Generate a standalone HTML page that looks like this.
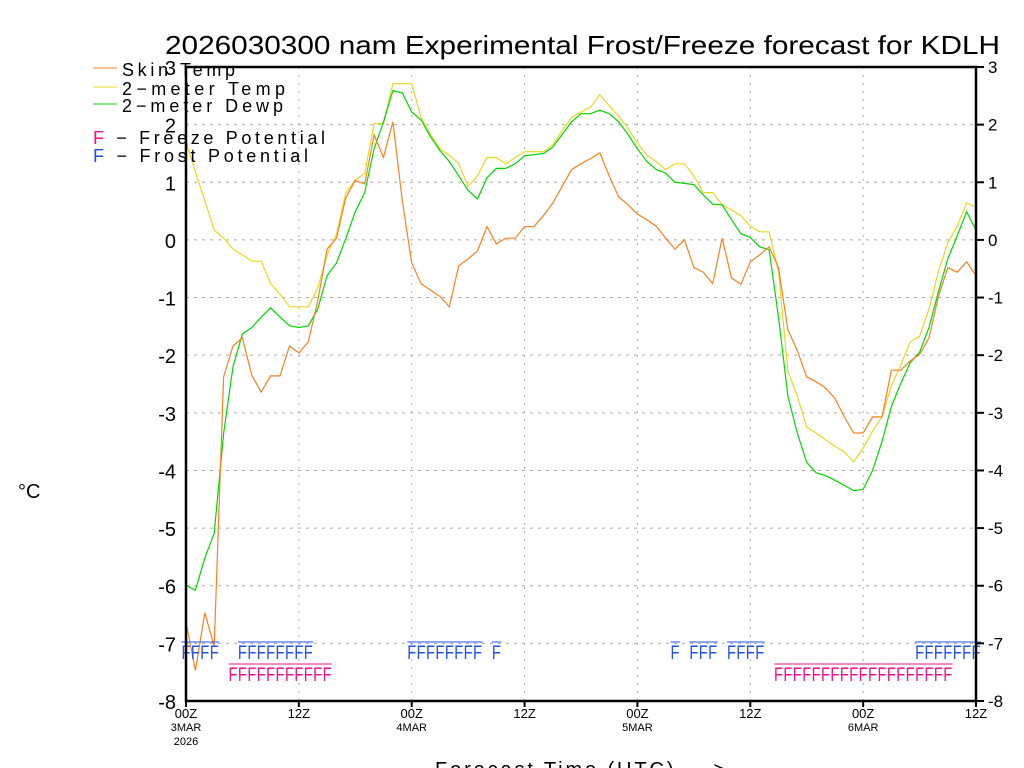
<!DOCTYPE html>
<html><head><meta charset="utf-8"><style>
html,body{margin:0;padding:0;background:#fff;}
svg{display:block;font-family:"Liberation Sans",sans-serif;}
</style></head><body>
<svg id="chart" width="1024" height="768" viewBox="0 0 1024 768" xmlns="http://www.w3.org/2000/svg">
<text x="165" y="54" font-size="26" textLength="835" lengthAdjust="spacingAndGlyphs">2026030300 nam Experimental Frost/Freeze forecast for KDLH</text>
<g id="grid"></g>
<g id="series"></g>
<g id="markers"></g>
<g id="axes"></g>
<g>
<line x1="93" y1="68" x2="117" y2="68" stroke="#f58220" stroke-width="1"/>
<text x="122" y="76" font-size="18" textLength="113" lengthAdjust="spacing">Skin Temp</text>
<line x1="93" y1="87" x2="117" y2="87" stroke="#e8d820" stroke-width="1"/>
<text x="122" y="95" font-size="18" textLength="163" lengthAdjust="spacing">2−meter Temp</text>
<line x1="93" y1="104" x2="117" y2="104" stroke="#00d800" stroke-width="1"/>
<text x="122" y="112" font-size="18" textLength="161" lengthAdjust="spacing">2−meter Dewp</text>
<text x="93" y="144" font-size="18" textLength="232" lengthAdjust="spacing"><tspan fill="#f0108a">F</tspan> − Freeze Potential</text>
<text x="93" y="162" font-size="18" textLength="215" lengthAdjust="spacing"><tspan fill="#2050f0">F</tspan> − Frost Potential</text>
</g>
<text x="18" y="498" font-size="20">°C</text>
<text x="435" y="776" font-size="20" textLength="290" lengthAdjust="spacing">Forecast Time (UTC) ---&gt;</text>
</svg>
<script>
const skinTemp=[-6.63,-7.47,-6.47,-7.05,-2.38,-1.84,-1.70,-2.35,-2.64,-2.36,-2.36,-1.84,-1.96,-1.77,-1.06,-0.16,0.03,0.74,1.03,0.97,1.82,1.43,2.05,0.68,-0.40,-0.76,-0.87,-0.98,-1.16,-0.45,-0.33,-0.19,0.23,-0.07,0.03,0.03,0.23,0.23,0.42,0.64,0.93,1.22,1.32,1.41,1.51,1.11,0.75,0.61,0.45,0.35,0.24,0.03,-0.16,0,-0.48,-0.56,-0.76,0.03,-0.66,-0.77,-0.38,-0.26,-0.12,-0.48,-1.56,-1.92,-2.38,-2.46,-2.57,-2.75,-3.07,-3.35,-3.35,-3.07,-3.07,-2.26,-2.26,-2.10,-1.99,-1.70,-0.98,-0.48,-0.56,-0.38,-0.62];
const temp2m=[1.70,1.18,0.68,0.17,0.03,-0.16,-0.26,-0.37,-0.37,-0.76,-0.94,-1.16,-1.16,-1.16,-0.84,-0.26,0.10,0.82,1.04,1.15,2.02,2.02,2.71,2.71,2.71,2.12,1.83,1.58,1.47,1.33,0.93,1.11,1.43,1.43,1.32,1.43,1.53,1.53,1.53,1.65,1.90,2.12,2.22,2.30,2.52,2.33,2.15,1.94,1.68,1.47,1.36,1.22,1.32,1.32,1.11,0.82,0.82,0.61,0.52,0.42,0.24,0.14,0.14,-0.55,-2.28,-2.71,-3.25,-3.35,-3.47,-3.58,-3.68,-3.85,-3.61,-3.32,-3.07,-2.53,-2.17,-1.77,-1.67,-1.20,-0.55,-0.05,0.24,0.64,0.57];
const dewp2m=[-5.99,-6.08,-5.52,-5.09,-3.36,-2.20,-1.63,-1.52,-1.34,-1.18,-1.34,-1.49,-1.52,-1.49,-1.20,-0.62,-0.40,0.03,0.49,0.82,1.58,2.05,2.59,2.55,2.22,2.08,1.79,1.55,1.36,1.11,0.86,0.71,1.08,1.24,1.24,1.32,1.46,1.48,1.50,1.61,1.83,2.05,2.19,2.19,2.25,2.19,2.05,1.83,1.58,1.36,1.22,1.16,1.00,0.98,0.96,0.78,0.62,0.61,0.35,0.11,0.04,-0.12,-0.17,-1.34,-2.71,-3.35,-3.86,-4.04,-4.09,-4.17,-4.26,-4.35,-4.33,-4.00,-3.50,-2.89,-2.49,-2.13,-1.95,-1.52,-0.90,-0.33,0.07,0.49,0.17];
const frostHours=[0,1,2,3,6,7,8,9,10,11,12,13,24,25,26,27,28,29,30,31,33,52,54,55,56,58,59,60,61,78,79,80,81,82,83,84];
const freezeHours=[5,6,7,8,9,10,11,12,13,14,15,63,64,65,66,67,68,69,70,71,72,73,74,75,76,77,78,79,80,81];
const yTicks=[3,2,1,0,-1,-2,-3,-4,-5,-6,-7,-8];
const xTickHours=[0,12,24,36,48,60,72,84];
const xTickLabels=["00Z","12Z","00Z","12Z","00Z","12Z","00Z","12Z"];
const xTickDates=["3MAR","","4MAR","","5MAR","","6MAR",""];
const xTickYears=["2026","","","","","","",""];

const L=186,R=976,T=67,B=701,HMAX=84,YMIN=-8,YMAX=3;
const NS="http://www.w3.org/2000/svg";
function xs(h){return L+(R-L)*h/HMAX;}
function ys(v){return B-(B-T)*(v-YMIN)/(YMAX-YMIN);}
function mk(tag,attrs,parent){const e=document.createElementNS(NS,tag);for(const k in attrs)e.setAttribute(k,attrs[k]);parent.appendChild(e);return e;}
const grid=document.getElementById('grid'),series=document.getElementById('series'),markers=document.getElementById('markers'),axes=document.getElementById('axes');

yTicks.forEach(v=>{
  if(v>YMIN&&v<YMAX){const g=mk('line',{x1:L,x2:R,y1:ys(v),y2:ys(v),stroke:'#aaa','stroke-dasharray':'3,5','stroke-width':1},grid);
  
  }
  const tl=mk('text',{x:L-10,y:ys(v)+8,'font-size':20,'text-anchor':'end'},axes);tl.textContent=v;
  
  
  const tr=mk('text',{x:R+12,y:ys(v)+6,'font-size':17},axes);tr.textContent=v;
  
  
  const tk=mk('line',{x1:R,x2:R+8,y1:ys(v),y2:ys(v),stroke:'#000','stroke-width':2},axes);
  
  
});
xTickHours.forEach((h,i)=>{
  if(h>0&&h<HMAX){const g=mk('line',{x1:xs(h),x2:xs(h),y1:T,y2:B,stroke:'#aaa','stroke-dasharray':'2,6','stroke-width':1},grid);
  
  }
  const t=mk('text',{x:xs(h),y:B+17,'font-size':13,'text-anchor':'middle'},axes);t.textContent=xTickLabels[i];
  
  
  if(xTickDates[i]){const d=mk('text',{x:xs(h),y:B+30,'font-size':11,'text-anchor':'middle'},axes);d.textContent=xTickDates[i];
  
  }
  if(xTickYears[i]){const d=mk('text',{x:xs(h),y:B+44,'font-size':11,'text-anchor':'middle'},axes);d.textContent=xTickYears[i];
  
  }
  const tk=mk('line',{x1:xs(h),x2:xs(h),y1:B,y2:B+6,stroke:'#000','stroke-width':2},axes);
  
  
});
const frame=mk('rect',{x:L,y:T,width:R-L,height:B-T,fill:'none',stroke:'#000','stroke-width':2.5},axes);



function line(arr,color,name){
  const p=mk('polyline',{points:arr.map((v,i)=>xs(i).toFixed(1)+','+ys(v).toFixed(1)).join(' '),fill:'none',stroke:color,'stroke-width':1.2},series);
  
  
}
line(temp2m,'#e8d820','line-2m-temp');
line(dewp2m,'#00d800','line-2m-dewp');
line(skinTemp,'#f58220','line-skin-temp');

function fmarks(hours,color,yTop,name){
  hours.forEach(h=>{
    const x=xs(h)-4.5;
    const t=mk('text',{x:x,y:yTop+17,'font-size':19,fill:color,textLength:9,lengthAdjust:'spacingAndGlyphs'},markers);t.textContent='F';
    
    
    const l=mk('line',{x1:x,x2:x+9.4,y1:yTop,y2:yTop,stroke:color,'stroke-width':1},markers);
    
    
  });
}
fmarks(frostHours,'#2050f0',642,'frost-marker');
fmarks(freezeHours,'#f0108a',664,'freeze-marker');
</script>
</body></html>
